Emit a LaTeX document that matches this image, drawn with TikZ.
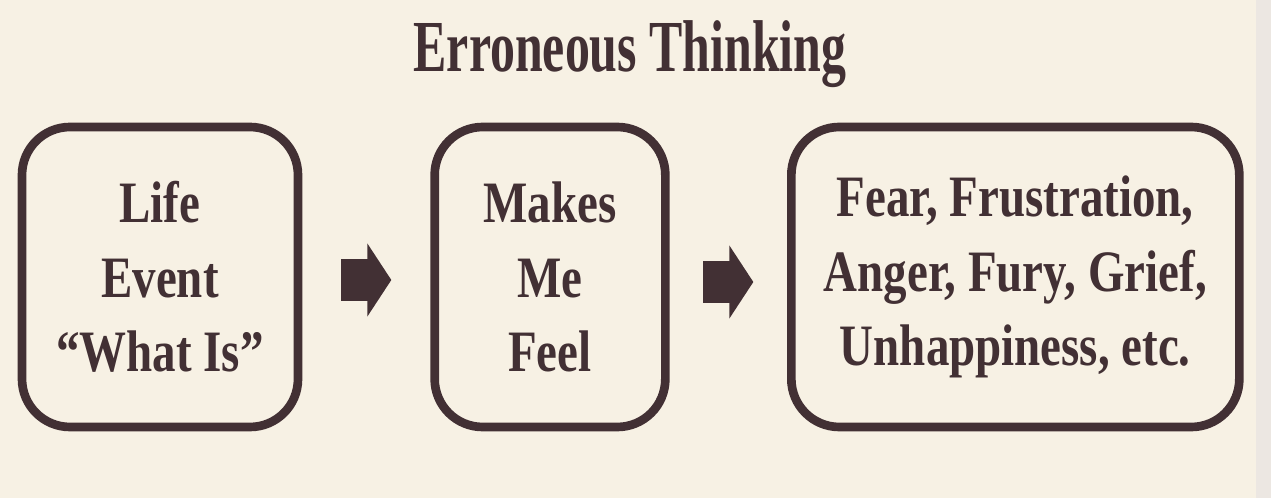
\documentclass[tikz,border=0pt]{standalone}
\usepackage{fontspec}
\newfontfamily\diagfont{Liberation Serif}[FakeStretch=0.8]
\newfontfamily\titlefont{Liberation Serif}[FakeStretch=0.68]
\usetikzlibrary{arrows.meta, positioning, calc}
\definecolor{paperbeige}{RGB}{247,241,228}
\definecolor{paperedge}{RGB}{236,231,226}
\definecolor{inkbrown}{RGB}{66,48,52}

\begin{document}
\begin{tikzpicture}[x=0.75pt, y=-0.75pt,
    every node/.style={font=\diagfont\bfseries\fontsize{44}{56}\selectfont, text=inkbrown},
    thoughtbox/.style={draw=inkbrown, line width=6.5pt, rounded corners=36pt, align=center, inner sep=0pt, minimum height=225pt},
    blockarrow/.style={draw=inkbrown, line width=31pt, -{Triangle[width=54pt, length=18pt]}}]
  % Papier
  \fill[paperbeige] (0,0) rectangle (1271,498);
  \fill[paperedge] (1256,0) rectangle (1271,498);
  \useasboundingbox (0,0) rectangle (1271,498);
  % Titel
  \node[anchor=base, font=\titlefont\bfseries\fontsize{55}{60}\selectfont] (title) at (630,72) {Erroneous Thinking};
  % Kasten
  \node[thoughtbox, minimum width=207pt] (life) at (160,277) {Life\\Event\\“What Is”};
  \node[thoughtbox, minimum width=173pt, right=96pt of life] (makes) {Makes\\Me\\Feel};
  \node[thoughtbox, minimum width=336pt, right=88pt of makes] (feelings) {Fear, Frustration,\\Anger, Fury, Grief,\\Unhappiness, etc.};
  % Pfeile
  \draw[blockarrow] ($(life.east)!.5!(makes.west)+(-25,3)$) -- ($(life.east)!.5!(makes.west)+(25,3)$);
  \draw[blockarrow] ($(makes.east)!.5!(feelings.west)+(-25,5)$) -- ($(makes.east)!.5!(feelings.west)+(25,5)$);
\end{tikzpicture}
\end{document}
